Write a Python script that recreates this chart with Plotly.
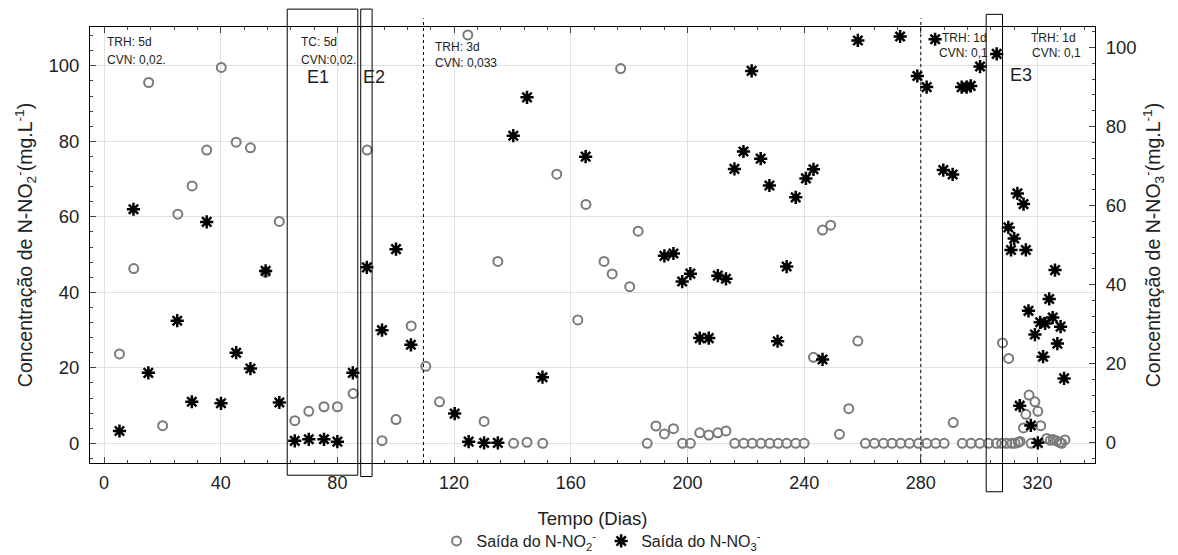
import plotly.graph_objects as go

# ---- data ----
no2_days = [5.3, 10.2, 15.3, 20.1, 25.3, 30.2, 35.2, 40.2, 45.3, 50.2, 55.4, 60.1, 65.4, 70.2, 75.4, 80.0,
            85.4, 90.2, 95.3, 100.1, 105.3, 110.3, 115.0, 124.7, 130.3, 135.0, 140.4, 145.0, 150.4,
            155.2, 162.4, 165.2, 171.4, 174.2, 177.1, 180.2, 183.1, 186.2, 189.2, 192.1, 195.2,
            198.3, 201.0, 204.2, 207.3, 210.4, 213.2, 216.2, 219.3, 222.2, 225.2, 228.2, 231.1,
            234.0, 237.1, 240.0, 243.2, 246.3, 249.1, 252.1, 255.3, 258.4, 261.0, 264.1, 267.2,
            270.1, 273.1, 276.1, 279.2, 282.0, 285.1, 288.0, 291.1, 294.2, 297.2, 300.2, 303.2,
            305.9, 307.7, 308.0, 309.4, 310.1, 311.2, 312.3, 313.4, 314.0, 315.2, 316.0, 317.1,
            317.8, 319.1, 320.1, 321.1, 323.2, 324.4, 325.4, 326.6, 327.7, 328.3, 329.4]
no2_vals = [23.7, 46.3, 95.6, 4.7, 60.7, 68.2, 77.7, 99.6, 79.8, 78.3, 45.4, 58.8, 6.0, 8.5, 9.7, 9.7,
            13.2, 77.7, 0.7, 6.3, 31.1, 20.4, 11.0, 108.2, 5.8, 48.2, 0.0, 0.3, 0.0,
            71.3, 32.7, 63.3, 48.2, 44.9, 99.3, 41.5, 56.2, 0.0, 4.6, 2.5, 3.9,
            0.0, 0.0, 2.8, 2.2, 2.8, 3.3, 0.0, 0.0, 0.0, 0.0, 0.0, 0.0,
            0.0, 0.0, 0.0, 22.8, 56.5, 57.8, 2.4, 9.2, 27.1, 0.0, 0.0, 0.0,
            0.0, 0.0, 0.0, 0.0, 0.0, 0.0, 0.0, 5.5, 0.0, 0.0, 0.0, 0.0,
            0.0, 0.0, 26.6, 0.0, 22.5, 0.0, 0.0, 0.3, 0.5, 4.1, 7.7, 12.8,
            0.0, 11.0, 8.5, 4.7, 1.3, 0.8, 1.0, 0.6, 0.3, 0.0, 0.9]

no3_days = [5.3, 10.1, 15.2, 25.1, 30.1, 35.2, 40.1, 45.3, 50.2, 55.4, 60.1, 65.4, 70.2, 75.4, 80.0,
            85.3, 90.1, 95.3, 100.1, 105.2, 120.2, 125.0, 130.3, 135.0, 140.3, 145.0, 150.3, 165.1,
            192.1, 195.2, 198.2, 201.0, 204.2, 207.3, 210.4, 213.2, 216.1, 219.2, 222.0, 225.1,
            228.1, 230.9, 234.0, 237.1, 240.6, 243.2, 246.3, 258.4, 272.9, 278.8, 282.0, 284.9,
            287.7, 290.9, 294.0, 295.7, 297.1, 300.3, 306.0, 310.0, 310.9, 312.0, 313.1, 313.9,
            315.2, 316.0, 316.9, 317.7, 319.1, 320.1, 320.9, 321.9, 322.6, 324.0, 325.2, 326.0,
            326.8, 327.9, 329.1]
no3_vals = [3.0, 59.1, 17.7, 30.9, 10.4, 55.9, 10.0, 22.8, 18.8, 43.5, 10.2, 0.5, 0.9, 0.9, 0.3,
            17.7, 44.4, 28.5, 49.0, 24.8, 7.4, 0.3, 0.0, 0.0, 77.7, 87.4, 16.6, 72.4,
            47.3, 47.9, 40.8, 42.8, 26.5, 26.5, 42.3, 41.5, 69.3, 73.7, 94.1, 71.9,
            65.1, 25.7, 44.6, 62.1, 66.9, 69.2, 21.1, 101.8, 102.8, 92.8, 90.0, 102.1,
            69.0, 67.9, 90.0, 90.0, 90.3, 95.2, 98.4, 54.5, 48.8, 51.7, 63.1, 9.4,
            60.4, 48.8, 33.4, 4.4, 27.4, 0.0, 30.5, 21.8, 30.2, 36.4, 31.7, 43.7,
            25.1, 29.4, 16.3]

x_ticks = [0, 40, 80, 120, 160, 200, 240, 280, 320]
y_ticks = [0, 20, 40, 60, 80, 100]

FONT = "Liberation Sans, Arial, sans-serif"

fig = go.Figure()
fig.add_trace(go.Scatter(
    x=no2_days, y=no2_vals, mode="markers",
    name="Saída do N-NO<sub>2</sub><sup>-</sup>",
    marker=dict(symbol="circle-open", size=9, color="#7a7a7a", line=dict(width=2, color="#7a7a7a")),
))
fig.add_trace(go.Scatter(
    x=no3_days, y=no3_vals, mode="markers", yaxis="y2",
    name="Saída do N-NO<sub>3</sub><sup>-</sup>",
    marker=dict(symbol="asterisk-open", size=11, color="black", line=dict(width=2.5, color="black")),
))

# vertical dotted separators
for xv in [109.5, 280.0]:
    fig.add_shape(type="line", xref="x", yref="paper", x0=xv, x1=xv, y0=0, y1=1.02,
                  line=dict(color="black", width=1, dash="dot"))
# boxes E1, E2, E3
boxes = [(62.8, 87.0, -0.028, 1.041), (88.0, 91.9, -0.031, 1.041), (302.4, 308.0, -0.066, 1.029)]
for x0, x1, y0, y1 in boxes:
    fig.add_shape(type="rect", xref="x", yref="paper", x0=x0, x1=x1, y0=y0, y1=y1,
                  line=dict(color="black", width=1), fillcolor="rgba(0,0,0,0)", layer="above")

def txt(x, y, s, size=12):
    fig.add_annotation(x=x, y=y, xref="x", yref="paper", text=s, showarrow=False,
                       xanchor="left", yanchor="middle", font=dict(size=size, color="#222", family=FONT))

txt(0.3, 0.965, "TRH: 5d")
txt(0.3, 0.924, "CVN: 0,02.")
txt(66.9, 0.965, "TC: 5d")
txt(66.9, 0.924, "CVN:0,02.")
txt(69.0, 0.885, "E1", 18)
txt(88.0, 0.885, "E2", 18)
txt(112.9, 0.955, "TRH: 3d")
txt(112.9, 0.917, "CVN: 0,033")
txt(286.6, 0.974, "TRH: 1d")
txt(285.5, 0.940, "CVN: 0,1")
txt(317.2, 0.974, "TRH: 1d")
txt(317.5, 0.940, "CVN: 0,1")
txt(310.0, 0.890, "E3", 18)

fig.update_layout(
    width=1178, height=555,
    margin=dict(l=90, r=83, t=27, b=92, autoexpand=False),
    paper_bgcolor="white", plot_bgcolor="white",
    font=dict(family=FONT, color="#222", size=18),
    showlegend=True,
    legend=dict(orientation="h", x=0.509, xanchor="center", y=-0.179, yanchor="middle",
                font=dict(size=16, family=FONT), bgcolor="rgba(0,0,0,0)", itemwidth=30),
    xaxis=dict(range=[-4.8, 339.7], tickvals=x_ticks, ticks="inside", ticklen=6,
               showline=True, linecolor="black", linewidth=1, mirror="ticks",
               showgrid=True, gridcolor="#e0e0e0", zeroline=False, ticklabelstandoff=3,
               minor=dict(dtick=8, ticks="inside", ticklen=3, showgrid=False),
               title=dict(text="Tempo (Dias)", standoff=20, font=dict(size=18.5)),
               tickfont=dict(size=18)),
    yaxis=dict(range=[-5.2, 110.3], tickvals=y_ticks, ticks="inside", ticklen=6,
               showline=True, linecolor="black", linewidth=1, ticklabelstandoff=6,
               showgrid=True, gridcolor="#e0e0e0", zeroline=False,
               minor=dict(dtick=4, ticks="inside", ticklen=3, showgrid=False),
               title=dict(text="Concentração de N-NO<sub>2</sub><sup>-</sup>(mg.L<sup>-1</sup>)", standoff=10,
                          font=dict(size=19.5)),
               tickfont=dict(size=18.5)),
    yaxis2=dict(range=[-5.1, 105.2], tickvals=y_ticks, ticks="inside", ticklen=6,
                overlaying="y", side="right", ticklabelstandoff=6,
                showline=True, linecolor="black", linewidth=1,
                showgrid=False, zeroline=False,
                minor=dict(dtick=4, ticks="inside", ticklen=3, showgrid=False),
                title=dict(text="Concentração de N-NO<sub>3</sub><sup>-</sup>(mg.L<sup>-1</sup>)", standoff=10,
                           font=dict(size=19.5)),
                tickfont=dict(size=18.5)),
)

fig.write_html("out.html")
